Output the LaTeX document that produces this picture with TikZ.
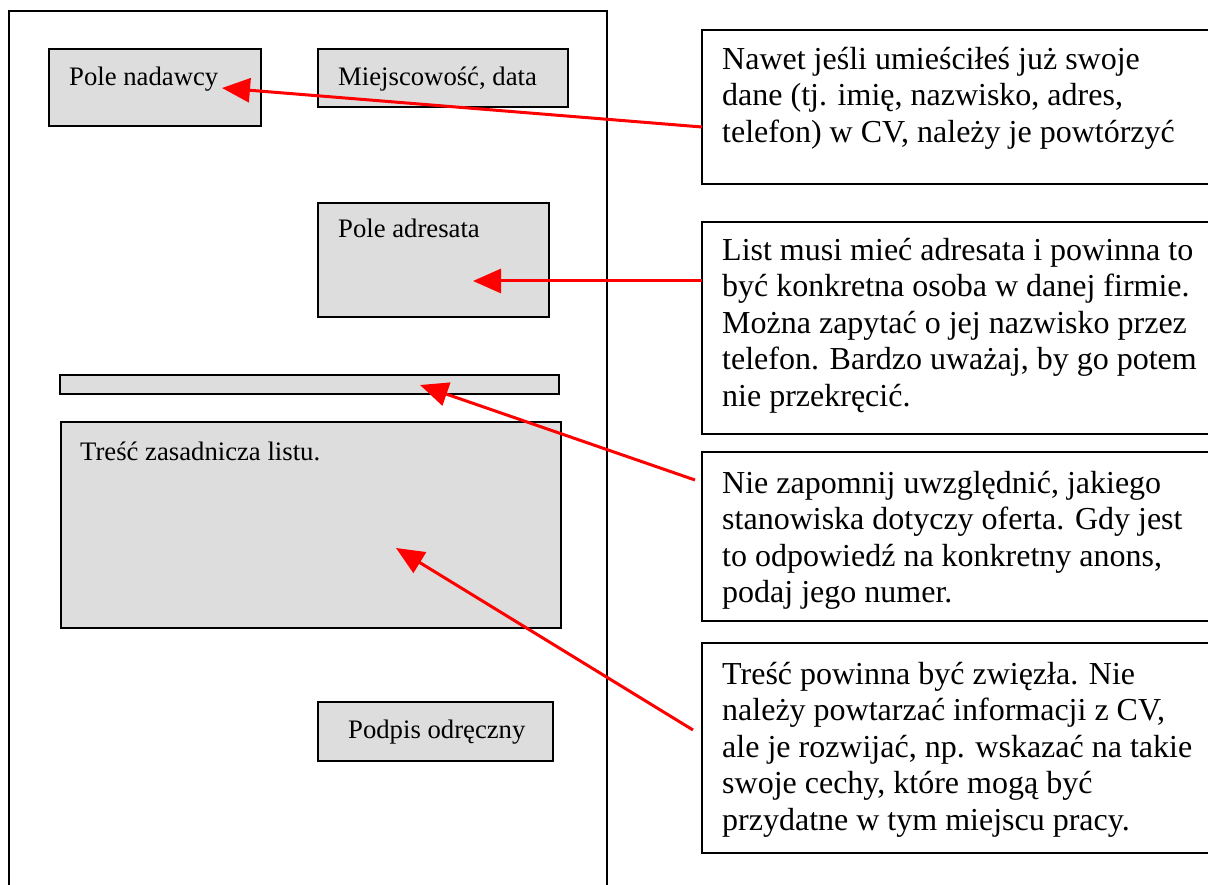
\documentclass[tikz,border=0pt]{standalone}
\usepackage{fontspec}
\setmainfont{Liberation Serif}
\usetikzlibrary{arrows.meta}
\definecolor{boxgray}{RGB}{221,221,221}
\begin{document}
\begin{tikzpicture}[x=1pt,y=-1pt,
  gbox/.style={draw=black, line width=1.5pt, fill=boxgray, inner sep=0pt, outer sep=0pt, anchor=north west},
  note/.style={draw=black, line width=1.5pt, fill=white, inner sep=0pt, outer sep=0pt, anchor=north west},
  smalltext/.style={font=\fontsize{26.7}{30}\selectfont, inner sep=0pt, anchor=base west},
  bigtext/.style={font=\fontsize{32}{36.5}\selectfont, inner sep=0pt, anchor=north west, align=left},
  callout/.style={draw=red, line width=3pt, -{Triangle[length=28pt,width=24pt]}}]
\useasboundingbox (0,0) rectangle (1208,885);
\clip (0,0) rectangle (1208,885);
% page frame
\draw[line width=1.5pt] (9,900) -- (9,11) -- (607,11) -- (607,900);
% letter fields
\node[gbox, minimum width=212pt, minimum height=77pt] (sender) at (49,49) {};
\node[gbox, minimum width=250pt, minimum height=58pt] (place) at (318,49) {};
\node[gbox, minimum width=231pt, minimum height=114pt] (addressee) at (318,203) {};
\node[gbox, minimum width=499pt, minimum height=19pt] (subject) at (60,375) {};
\node[gbox, minimum width=500pt, minimum height=206pt] (body) at (61,422) {};
\node[gbox, minimum width=235pt, minimum height=59pt] (sign) at (318,702) {};
\node[smalltext] (lsender) at (69,86) {Pole nadawcy};
\node[smalltext] (lplace) at (338,86) {Miejscowość, data};
\node[smalltext] (laddr) at (338,238) {Pole adresata};
\node[smalltext] (lbody) at (80,460) {Treść zasadnicza listu.};
\node[smalltext] (lsign) at (348,738) {Podpis odręczny};
% notes
\node[note, minimum width=540pt, minimum height=154pt] (n1) at (702,30) {};
\node[note, minimum width=540pt, minimum height=212pt] (n2) at (702,222) {};
\node[note, minimum width=540pt, minimum height=169pt] (n3) at (702,452) {};
\node[note, minimum width=540pt, minimum height=210pt] (n4) at (702,643) {};
\node[bigtext] (t1) at (722,47) {Nawet jeśli umieściłeś już swoje\\dane (tj. imię, nazwisko, adres,\\telefon) w CV, należy je powtórzyć};
\node[bigtext] (t2) at (722,238) {List musi mieć adresata i powinna to\\być konkretna osoba w danej firmie.\\Można zapytać o jej nazwisko przez\\telefon. Bardzo uważaj, by go potem\\nie przekręcić.};
\node[bigtext] (t3) at (722,471) {Nie zapomnij uwzględnić, jakiego\\stanowiska dotyczy oferta. Gdy jest\\to odpowiedź na konkretny anons,\\podaj jego numer.};
\node[bigtext] (t4) at (722,662) {Treść powinna być zwięzła. Nie\\należy powtarzać informacji z CV,\\ale je rozwijać, np. wskazać na takie\\swoje cechy, które mogą być\\przydatne w tym miejscu pracy.};
% arrows
\coordinate (a1) at (702,127);
\coordinate (h1) at (222,88);
\coordinate (a2) at (702,281);
\coordinate (h2) at (473,281);
\coordinate (a3) at (695,480);
\coordinate (h3) at (420,385);
\coordinate (a4) at (693,730);
\coordinate (h4) at (396,548);
\draw[callout] (a1) -- (h1);
\draw[callout] (a2) -- (h2);
\draw[callout] (a3) -- (h3);
\draw[callout] (a4) -- (h4);
\end{tikzpicture}
\end{document}
